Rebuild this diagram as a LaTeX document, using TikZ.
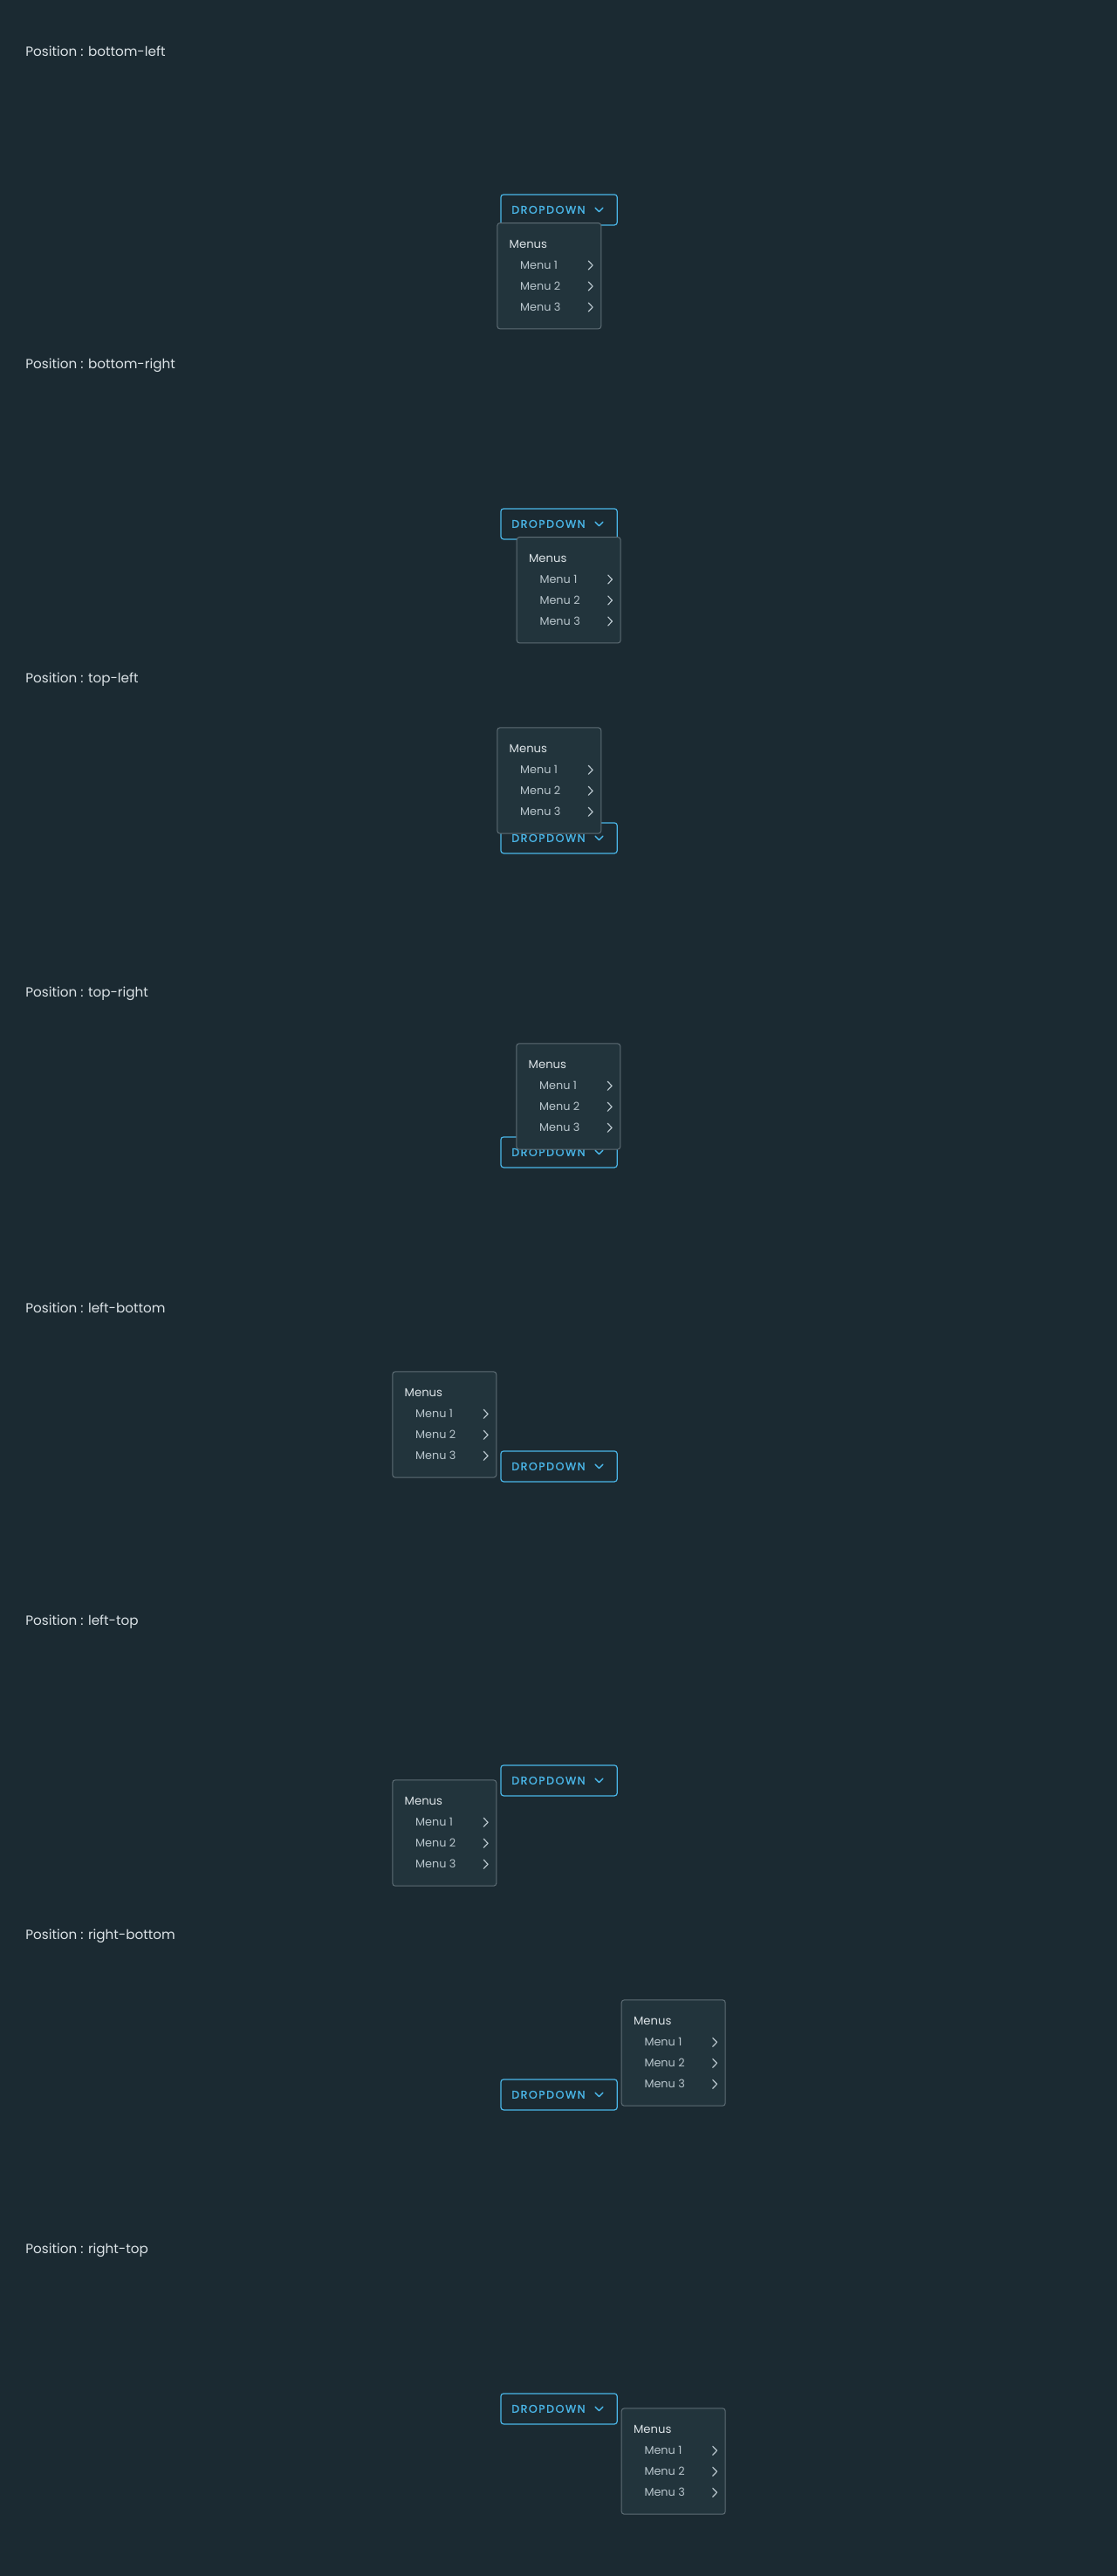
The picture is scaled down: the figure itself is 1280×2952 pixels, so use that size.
\documentclass[tikz,border=0pt]{standalone}
\usepackage{fontspec}
\setmainfont{Poppins}
\newfontfamily\btnfont[LetterSpace=12, FakeBold=1.2]{Poppins}
\usetikzlibrary{positioning}
\definecolor{bgdark}{HTML}{1B2A32}
\definecolor{menufill}{HTML}{22343C}
\definecolor{menuline}{HTML}{5E6D75}
\definecolor{btnblue}{HTML}{4AB6E8}
\definecolor{labeltext}{HTML}{DCE3E7}
\definecolor{itemtext}{HTML}{B8C5CC}
\tikzstyle{poslabel} = [anchor=west, inner sep=0, text=labeltext, font=\fontsize{7.6}{9}\selectfont]
\tikzstyle{ddbutton} = [rectangle, rounded corners=1.6pt, draw=btnblue, line width=0.6pt, minimum width=66.7pt, minimum height=17.5pt, inner sep=0, anchor=north west]
\tikzstyle{btntext} = [inner sep=0, text=btnblue, font=\btnfont\fontsize{6.3}{8}\selectfont]
\tikzstyle{ddmenu} = [rectangle, rounded corners=1.6pt, draw=menuline, fill=menufill, line width=0.5pt, minimum width=59.5pt, minimum height=60.7pt, inner sep=0, anchor=north west]
\tikzstyle{menutitle} = [anchor=west, inner sep=0, text=labeltext, font=\fontsize{6.6}{8}\selectfont]
\tikzstyle{menuitem} = [anchor=west, inner sep=0, text=itemtext, font=\fontsize{6.4}{8}\selectfont]
\tikzstyle{chev} = [draw=itemtext, line width=0.6pt, line cap=round, line join=round]
\tikzstyle{chevblue} = [draw=btnblue, line width=0.7pt, line cap=round, line join=round]

\begin{document}
\begin{tikzpicture}[x=0.5pt, y=-0.5pt]
        \fill[bgdark] (0,0) rectangle (1280,2952);
        \useasboundingbox (0,0) rectangle (1280,2952);
        % one row per position: number / name / menu offset from the button
        \foreach \i/\pos/\mx/\my in {1/bottom-left/-4/32.7, 2/bottom-right/18.4/32.7, 3/top-left/-4/-109, 4/top-right/18/-107, 5/left-bottom/-124/-91, 6/left-top/-124/17, 7/right-bottom/138.4/-91, 8/right-top/138.4/17} {
        \node (head\i) [poslabel] at (29, 59+360*\i-360) {Position : \pos};
        \node (btn\i) [ddbutton] at (573.3, 222.3+360*\i-360) {};
        \node (btntext\i) [btntext, right=6.3pt of btn\i.west, anchor=west] {DROPDOWN};
        \draw [chevblue] ([xshift=-12.9pt, yshift=1.1pt]btn\i.east) -- ++(2.2pt,-2.2pt) -- ++(2.2pt,2.2pt);
        \node (menu\i) [ddmenu] at (573.3+\mx, 222.3+360*\i-360+\my) {};
        \node (title\i) [menutitle] at ([xshift=7pt, yshift=-12.5pt]menu\i.north west) {Menus};
        \foreach \k in {1,2,3} {
            \node (item\i-\k) [menuitem] at ([xshift=13.2pt, yshift=-12.5pt-12pt*\k]menu\i.north west) {Menu \k};
            \draw [chev] ([xshift=52.5pt, yshift=-10pt-12pt*\k]menu\i.north west) -- ++(2.4pt,-2.5pt) -- ++(-2.4pt,-2.5pt);
        }
        }
\end{tikzpicture}
\end{document}
